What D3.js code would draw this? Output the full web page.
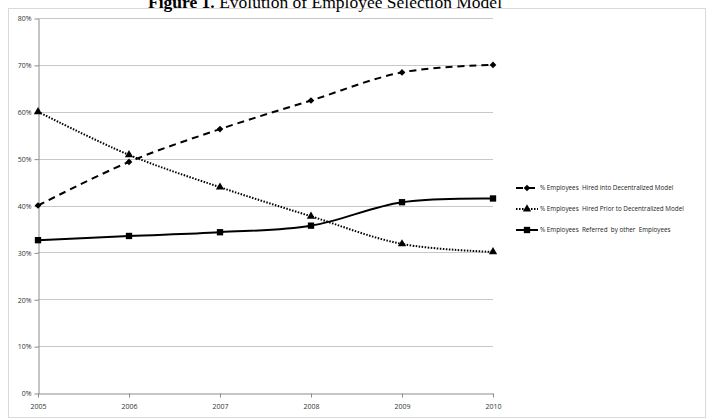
<!DOCTYPE html>
<html>
<head>
<meta charset="utf-8">
<script src="https://cdn.jsdelivr.net/npm/d3@7"></script>
<style>
    body { margin: 0; background: #fff; }
    svg { display: block; }
    .tick text { font-family: "Open Sans", "DejaVu Sans", sans-serif; font-size: 7px; fill: #333; }
</style>
</head>
<body>
<svg width="713" height="420"></svg>
<script>
var years = [2005, 2006, 2007, 2008, 2009, 2010];
var hiredInto = [40.0, 49.3, 56.3, 62.4, 68.4, 70.0];
var hiredPrior = [60.0, 50.8, 43.9, 37.7, 31.8, 30.1];
var referred = [32.6, 33.5, 34.3, 35.7, 40.7, 41.5];
var yTicks = [0, 10, 20, 30, 40, 50, 60, 70, 80];
var seriesNames = [
    "% Employees  Hired into Decentralized Model",
    "% Employees  Hired Prior to Decentralized Model",
    "% Employees  Referred  by other  Employees"
];

var svg = d3.select("svg");

// outer frame
svg.append("rect")
    .attr("x", 8.5).attr("y", 8.5)
    .attr("width", 697).attr("height", 409)
    .attr("fill", "none")
    .attr("stroke", "#d9d9d9");

// title (partly cut off at the top, as in the source)
var title = svg.append("text")
    .attr("x", 325)
    .attr("y", 8)
    .attr("text-anchor", "middle")
    .style("font-family", "'Liberation Serif', serif")
    .style("font-size", "17.5px")
    .style("fill", "#000");
title.append("tspan").style("font-weight", "bold").text("Figure 1.");
title.append("tspan").text(" Evolution of Employee Selection Model");

var plotLeft = 38, plotRight = 493, plotTop = 18, plotBottom = 393;

var x = d3.scalePoint()
    .domain(years)
    .range([plotLeft, plotRight]);

var y = d3.scaleLinear()
    .domain([0, 80])
    .range([plotBottom, plotTop]);

// gridlines
svg.selectAll(".grid")
    .data(yTicks.filter(function(d) { return d > 0; }))
    .enter()
    .append("line")
    .attr("x1", plotLeft).attr("x2", plotRight)
    .attr("y1", function(d) { return Math.round(y(d)) + 0.5; })
    .attr("y2", function(d) { return Math.round(y(d)) + 0.5; })
    .attr("stroke", "#c8c8c8")
    .attr("stroke-width", 1);

// axes
var yAxis = d3.axisLeft(y)
    .tickValues(yTicks)
    .tickFormat(function(d) { return d + "%"; })
    .tickSize(4)
    .tickSizeOuter(0)
    .tickPadding(3);
var gy = svg.append("g")
    .attr("transform", "translate(" + (plotLeft + 0.5) + ",0.5)")
    .call(yAxis);

var xAxis = d3.axisBottom(x)
    .tickSize(4)
    .tickSizeOuter(0)
    .tickPadding(7);
var gx = svg.append("g")
    .attr("transform", "translate(0," + (plotBottom + 0.5) + ")")
    .call(xAxis);

[gx, gy].forEach(function(g) {
    g.selectAll("path, line").attr("stroke", "#8c8c8c");
});

// series
var series = [
    { name: seriesNames[0], values: hiredInto, dash: "7,5", symbol: d3.symbolSquare, size: 22, rotate: 45 },
    { name: seriesNames[1], values: hiredPrior, dash: "1.5,1.5", symbol: d3.symbolTriangle, size: 30, rotate: 0 },
    { name: seriesNames[2], values: referred, dash: null, symbol: d3.symbolSquare, size: 40, rotate: 0 }
];

var line = d3.line()
    .x(function(d, i) { return x(years[i]); })
    .y(function(d) { return y(d); })
    .curve(d3.curveCatmullRom.alpha(0.5));

series.forEach(function(s) {
    svg.append("path")
        .attr("d", line(s.values))
        .attr("fill", "none")
        .attr("stroke", "#000")
        .attr("stroke-width", 2)
        .attr("stroke-dasharray", s.dash);

    svg.selectAll(null)
        .data(s.values)
        .enter()
        .append("path")
        .attr("d", d3.symbol().type(s.symbol).size(s.size))
        .attr("transform", function(d, i) { return "translate(" + x(years[i]) + "," + y(d) + ") rotate(" + s.rotate + ")"; })
        .attr("fill", "#000");
});

// LEGEND
var legend = svg.selectAll(".legend")
    .data(series)
    .enter()
    .append("g")
    .attr("transform", function(d, i) { return "translate(516," + (188 + i * 21) + ")"; });

legend.append("line")
    .attr("x1", 0).attr("x2", 22)
    .attr("stroke", "#000")
    .attr("stroke-width", 2)
    .attr("stroke-dasharray", function(d) { return d.dash; });

legend.append("path")
    .attr("d", function(d) { return d3.symbol().type(d.symbol).size(d.size)(); })
    .attr("transform", function(d) { return "translate(11,0) rotate(" + d.rotate + ")"; })
    .attr("fill", "#000");

legend.append("text")
    .attr("x", 24)
    .attr("dy", "0.35em")
    .style("font-family", "'Open Sans', 'DejaVu Sans', sans-serif")
    .style("font-size", "6.3px")
    .style("fill", "#222")
    .style("white-space", "pre")
    .text(function(d) { return d.name; });
</script>
</body>
</html>
